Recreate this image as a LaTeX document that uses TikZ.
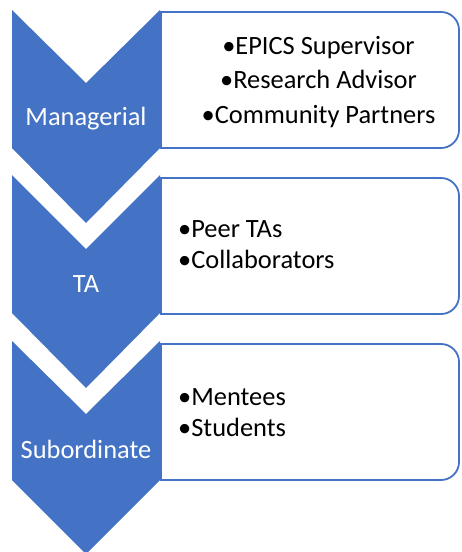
\documentclass[tikz,border=0pt]{standalone}
\usepackage{fontspec}
\setmainfont{Carlito}
\definecolor{officeblue}{HTML}{4472C4}
\tikzset{
  chevron/.style={fill=officeblue,draw=none},
  listbox/.style={draw=officeblue,line width=1.8pt,fill=white},
  levellabel/.style={anchor=base,text=white,inner sep=0pt,font=\fontsize{26.4}{31}\selectfont},
  itemlabel/.style={anchor=base west,inner sep=0pt,font=\fontsize{26.4}{31}\selectfont},
  centerlabel/.style={anchor=base,inner sep=0pt,font=\fontsize{26.4}{31}\selectfont}
}
\begin{document}
\begin{tikzpicture}[x=1pt,y=-1pt]
\useasboundingbox (0,0) rectangle (461,552);
% chevrons, one per level
\fill[chevron] (12,10) -- (86,83) -- (160,10) -- (160,148) -- (86,223) -- (12,148) -- cycle;
\fill[chevron] (12,175) -- (86,249) -- (160,175) -- (160,313) -- (86,388) -- (12,313) -- cycle;
\fill[chevron] (12,341) -- (86,414) -- (160,341) -- (160,480) -- (86,554) -- (12,480) -- cycle;
% boxes, rounded on the right side only
\draw[listbox] (161,12) -- (441,12) arc[start angle=90,end angle=0,radius=18pt] -- (459,130) arc[start angle=0,end angle=-90,radius=18pt] -- (161,148) -- cycle;
\draw[listbox] (161,178) -- (441,178) arc[start angle=90,end angle=0,radius=18pt] -- (459,296) arc[start angle=0,end angle=-90,radius=18pt] -- (161,314) -- cycle;
\draw[listbox] (161,344) -- (441,344) arc[start angle=90,end angle=0,radius=18pt] -- (459,462) arc[start angle=0,end angle=-90,radius=18pt] -- (161,480) -- cycle;
% level names
\node[levellabel] (managerial) at (86,125) {Managerial};
\node[levellabel] (ta) at (86,292) {TA};
\node[levellabel] (subordinate) at (86,458) {Subordinate};
% managerial contacts
\node[centerlabel] (supervisor) at (318.5,54) {•EPICS Supervisor};
\node[centerlabel] (advisor) at (318.5,88) {•Research Advisor};
\node[centerlabel] (partners) at (318.5,123) {•Community Partners};
% TA contacts
\node[itemlabel] (peers) at (178,237) {•Peer TAs};
\node[itemlabel] (collab) at (178,268) {•Collaborators};
% subordinate contacts
\node[itemlabel] (mentees) at (178,405) {•Mentees};
\node[itemlabel] (students) at (178,436) {•Students};
\end{tikzpicture}
\end{document}
